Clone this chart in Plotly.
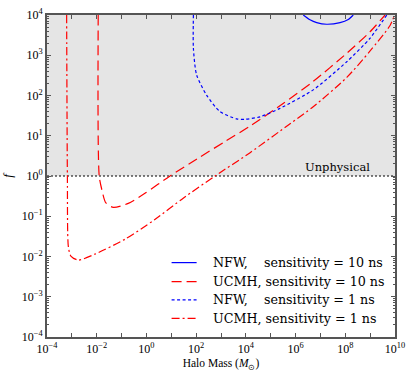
import numpy as np
import plotly.graph_objects as go

# curves, stored as log10(M / Msun) and log10(f)
nfw10_logM = [6.31, 6.58, 6.85, 7.25, 7.79, 8.12, 8.32]
nfw10_logf = [4.00, 3.88, 3.81, 3.77, 3.81, 3.89, 4.00]

ucmh10_logM = [-1.94, -1.90, -1.79, -1.63, -1.33, -0.73, -0.06, 0.95, 2.15, 3.20, 4.17, 5.50, 6.71, 8.06, 8.99, 9.60]
ucmh10_logf = [4.00, 0.00, -0.35, -0.67, -0.78, -0.68, -0.43, 0.00, 0.47, 0.87, 1.24, 1.80, 2.35, 3.05, 3.58, 4.00]

nfw1_logM = [1.89, 1.89, 2.02, 2.42, 2.96, 3.63, 3.97, 4.57, 5.37, 6.71, 8.06, 8.99, 9.67]
nfw1_logf = [4.00, 3.17, 2.51, 2.01, 1.60, 1.42, 1.41, 1.47, 1.68, 2.14, 2.84, 3.42, 4.00]

ucmh1_logM = [-3.21, -3.18, -3.14, -3.04, -2.74, -2.07, -0.86, 0.34, 1.48, 2.76, 4.17, 5.78, 6.71, 8.06, 8.99, 9.80, 9.98]
ucmh1_logf = [4.00, 0.00, -1.76, -1.99, -2.09, -1.94, -1.57, -1.08, -0.55, 0.00, 0.58, 1.30, 1.72, 2.45, 3.10, 3.74, 4.00]

f_phys = 1.0      # f above this is unphysical
f_top = 1e4
m_range = [1e-4, 1e10]

x_major = list(range(-4, 11, 2))
x_minor = list(range(-3, 10, 2))
y_major = list(range(-4, 5))


def pow10(k):
    return '10<sup>%s</sup>' % str(k).replace('-', '\u2212')


SERIF = 'Liberation Serif'
DJV = 'DejaVu Serif'
AXC = '#555555'

fig = go.Figure()

# unphysical region
fig.add_trace(go.Scatter(x=m_range, y=[f_phys, f_phys], mode='lines',
                         line=dict(color='black', width=1.2, dash='2px,2px'),
                         showlegend=False, hoverinfo='skip'))
fig.add_trace(go.Scatter(x=m_range, y=[f_top, f_top], mode='lines',
                         line=dict(width=0), fill='tonexty', fillcolor='#e5e5e5',
                         showlegend=False, hoverinfo='skip'))

curves = [
    ('NFW,\u00a0\u00a0\u00a0 sensitivity = 10 ns', nfw10_logM, nfw10_logf, 'blue', 'solid'),
    ('UCMH, sensitivity = 10 ns', ucmh10_logM, ucmh10_logf, 'red', '10px,5px'),
    ('NFW,\u00a0\u00a0\u00a0 sensitivity = 1 ns', nfw1_logM, nfw1_logf, 'blue', '3px,2.5px'),
    ('UCMH, sensitivity = 1 ns', ucmh1_logM, ucmh1_logf, 'red', '8px,3px,2px,3px'),
]
for name, lm, lf, col, dash in curves:
    fig.add_trace(go.Scatter(x=10 ** np.array(lm), y=10 ** np.array(lf), mode='lines',
                             name=name, showlegend=False,
                             line=dict(color=col, width=1.2, dash=dash, shape='spline', smoothing=0.7)))

# hand-drawn legend (lower right)
leg_y = [0.231, 0.172, 0.115, 0.058]
for (name, lm, lf, col, dash), yy in zip(curves, leg_y):
    fig.add_shape(type='line', xref='paper', yref='paper', x0=0.358, x1=0.430, y0=yy, y1=yy,
                  line=dict(color=col, width=1.2, dash=dash))
    fig.add_annotation(text=name, xref='paper', yref='paper', x=0.471, y=yy,
                       xanchor='left', yanchor='middle', showarrow=False,
                       font=dict(family=DJV, size=12.7, color='black'))

fig.add_annotation(text='Unphysical', xref='paper', x=0.933, xanchor='right',
                   yref='y domain', y=0.5, yanchor='bottom', showarrow=False,
                   font=dict(family=DJV, size=11.5, color='black'))

fig.update_xaxes(type='log', range=[-4, 10], tickmode='array',
                 tickvals=[10.0 ** k for k in x_major], ticktext=[pow10(k) for k in x_major],
                 minor=dict(tickvals=[10.0 ** k for k in x_minor], ticks='inside', ticklen=4,
                            tickcolor=AXC, showgrid=False),
                 ticks='inside', ticklen=4, tickcolor=AXC, showline=True, linecolor=AXC,
                 linewidth=1.8, mirror='allticks', showgrid=False, zeroline=False, automargin=False,
                 tickfont=dict(family=SERIF, size=12, color='black'),
                 title=dict(text='Halo Mass (<i>M</i><sub>\u2299</sub>)', standoff=4,
                            font=dict(family=SERIF, size=11.5, color='black')))
fig.update_yaxes(type='log', range=[-4, 4], tickmode='array',
                 tickvals=[10.0 ** k for k in y_major], ticktext=[pow10(k) for k in y_major],
                 ticks='inside', ticklen=4, tickcolor=AXC, showline=True, linecolor=AXC,
                 linewidth=1.8, mirror='allticks', showgrid=False, zeroline=False, automargin=False,
                 minor=dict(tickvals=[m * 10.0 ** k for k in range(-4, 4) for m in range(2, 10)],
                            ticks='inside', ticklen=2, tickcolor=AXC, showgrid=False),
                 tickfont=dict(family=SERIF, size=12, color='black'),
                 title=dict(text='<i>f</i>', standoff=6,
                            font=dict(family=SERIF, size=13, color='black')))

fig.update_layout(width=416, height=385,
                  margin=dict(l=47, r=21, t=15, b=48),
                  paper_bgcolor='white', plot_bgcolor='white', showlegend=False)

# page body margin would push the figure off by 8px
fig.write_html('out.html', config={'displayModeBar': False},
               post_script="document.body.style.margin='0';document.body.style.overflow='hidden';")
